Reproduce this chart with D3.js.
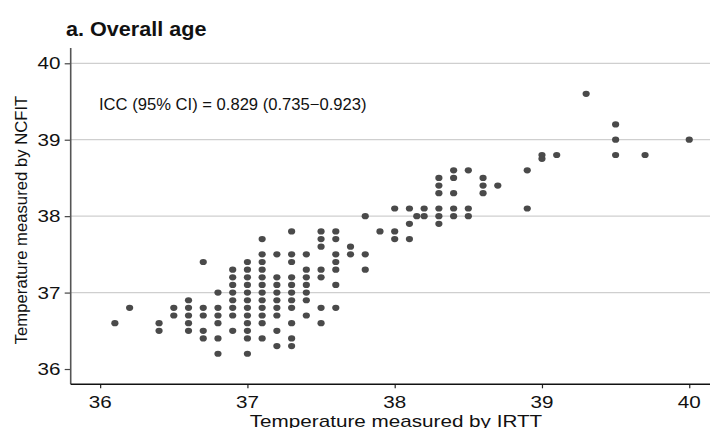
<!DOCTYPE html>
<html>
<head>
<meta charset="utf-8">
<script src="https://cdn.jsdelivr.net/npm/d3@7"></script>
<style>
body{margin:0;background:#fff;}
svg{display:block;font-family:"Liberation Sans",Arial,sans-serif;}
</style>
</head>
<body>
<svg id="chart" width="710" height="428"></svg>
<script>
// Data (IRTT on x, NCFIT on y)
const irtt = [
 36.1,
 36.2,
 36.4,36.4,
 36.5,36.5,
 36.6,36.6,36.6,36.6,36.6,
 36.7,36.7,36.7,36.7,36.7,
 36.8,36.8,36.8,36.8,36.8,36.8,
 36.9,36.9,36.9,36.9,36.9,36.9,36.9,36.9,
 37.0,37.0,37.0,37.0,37.0,37.0,37.0,37.0,37.0,37.0,37.0,37.0,
 37.1,37.1,37.1,37.1,37.1,37.1,37.1,37.1,37.1,37.1,37.1,37.1,
 37.2,37.2,37.2,37.2,37.2,37.2,37.2,37.2,37.2,
 37.3,37.3,37.3,37.3,37.3,37.3,37.3,37.3,37.3,37.3,37.3,
 37.4,37.4,37.4,37.4,37.4,37.4,37.4,
 37.5,37.5,37.5,37.5,37.5,37.5,37.5,
 37.6,37.6,37.6,37.6,37.6,37.6,37.6,
 37.7,37.7,
 37.8,37.8,37.8,
 37.9,
 38.0,38.0,38.0,
 38.1,38.1,38.1,
 38.15,
 38.2,38.2,
 38.3,38.3,38.3,38.3,38.3,38.3,
 38.4,38.4,38.4,38.4,38.4,
 38.5,38.5,38.5,
 38.6,38.6,38.6,
 38.7,
 38.9,38.9,
 39.0,39.0,
 39.1,
 39.3,
 39.5,39.5,39.5,
 39.7,
 40.0
];
const ncfit = [
 36.6,
 36.8,
 36.6,36.5,
 36.8,36.7,
 36.9,36.8,36.7,36.6,36.5,
 37.4,36.8,36.7,36.5,36.4,
 37.0,36.8,36.7,36.6,36.4,36.2,
 37.3,37.2,37.1,37.0,36.9,36.8,36.7,36.5,
 37.4,37.3,37.2,37.1,37.0,36.9,36.8,36.7,36.6,36.5,36.4,36.2,
 37.7,37.5,37.4,37.3,37.2,37.1,37.0,36.9,36.8,36.7,36.6,36.4,
 37.5,37.2,37.1,37.0,36.9,36.8,36.7,36.5,36.3,
 37.8,37.5,37.4,37.2,37.1,37.0,36.9,36.8,36.6,36.4,36.3,
 37.5,37.3,37.2,37.1,37.0,36.9,36.7,
 37.8,37.7,37.6,37.3,37.2,36.8,36.6,
 37.8,37.7,37.5,37.4,37.3,37.1,36.8,
 37.6,37.5,
 38.0,37.5,37.3,
 37.8,
 38.1,37.8,37.7,
 38.1,37.9,37.7,
 38.0,
 38.1,38.0,
 38.5,38.4,38.3,38.1,38.0,37.9,
 38.6,38.5,38.3,38.1,38.0,
 38.6,38.1,38.0,
 38.5,38.4,38.3,
 38.4,
 38.6,38.1,
 38.8,38.75,
 38.8,
 39.6,
 39.2,39.0,38.8,
 38.8,
 39.0
];
const xTicks = [36, 37, 38, 39, 40];
const yTicks = [36, 37, 38, 39, 40];
const yGrid = [37, 38, 39, 40];
const title = "a. Overall age";
const xLabel = "Temperature measured by IRTT";
const yLabel = "Temperature measured by NCFIT";
const note = "ICC (95% CI) = 0.829 (0.735\u22120.923)";

const svg = d3.select("#chart");
const x = d3.scaleLinear().domain([35.8, 40.2]).range([70.7, 718.7]);
const y = d3.scaleLinear().domain([35.8, 40.2]).range([384.3, 48]);

// gridlines
svg.append("g").selectAll("line").data(yGrid).join("line")
  .attr("x1", x(35.8)).attr("x2", 710)
  .attr("y1", d => y(d)).attr("y2", d => y(d))
  .attr("stroke", "#cfcfcf").attr("stroke-width", 1.2);

// y axis
const yAxis = svg.append("g").attr("transform", `translate(${x(35.8)},0)`)
  .call(d3.axisLeft(y).tickValues(yTicks).tickSize(6).tickFormat(""));
yAxis.select(".domain").remove();
yAxis.selectAll(".tick line").attr("stroke", "#444").attr("stroke-width", 1.2);
svg.append("line").attr("x1", x(35.8)).attr("x2", x(35.8))
  .attr("y1", y(40.2)).attr("y2", y(35.8)).attr("stroke", "#555").attr("stroke-width", 1.6);

// x axis
const xAxis = svg.append("g").attr("transform", `translate(0,${y(35.8)})`)
  .call(d3.axisBottom(x).tickValues(xTicks).tickSize(4).tickFormat(""));
xAxis.select(".domain").remove();
xAxis.selectAll(".tick line").attr("stroke", "#222").attr("stroke-width", 1.2);
svg.append("line").attr("x1", x(35.8)).attr("x2", 710)
  .attr("y1", y(35.8)).attr("y2", y(35.8)).attr("stroke", "#111").attr("stroke-width", 1.4);

// tick labels
const tickFont = 16.5, tickSX = 1.25;
svg.append("g").selectAll("text").data(xTicks).join("text")
  .attr("transform", d => `translate(${x(d)},408) scale(${tickSX},1)`)
  .attr("text-anchor", "middle").attr("font-size", tickFont).attr("fill", "#111")
  .text(d => d);
svg.append("g").selectAll("text").data(yTicks).join("text")
  .attr("transform", d => `translate(60.5,${y(d) + 6}) scale(${tickSX},1)`)
  .attr("text-anchor", "end").attr("font-size", tickFont).attr("fill", "#111")
  .text(d => d);

// points
svg.append("g").selectAll("ellipse").data(irtt.map((v, i) => [v, ncfit[i]])).join("ellipse")
  .attr("cx", d => x(d[0])).attr("cy", d => y(d[1]))
  .attr("rx", 3.6).attr("ry", 3.1)
  .attr("fill", "#4a4a4a");

// title
svg.append("text").attr("transform", "translate(66,35.7) scale(1.12,1)")
  .attr("font-size", 19.3).attr("font-weight", "bold").attr("fill", "#111")
  .text(title);

// ICC note
svg.append("text").attr("x", 99).attr("y", 110)
  .attr("font-size", 16.6).attr("fill", "#111").text(note);

// axis labels
svg.append("text").attr("transform", "translate(396,427) scale(1.23,1)")
  .attr("text-anchor", "middle").attr("font-size", 16.8).attr("fill", "#111")
  .text(xLabel);
svg.append("text").attr("transform", "translate(26.7,220) rotate(-90)")
  .attr("text-anchor", "middle").attr("font-size", 16.7).attr("fill", "#111")
  .text(yLabel);
</script>
</body>
</html>
